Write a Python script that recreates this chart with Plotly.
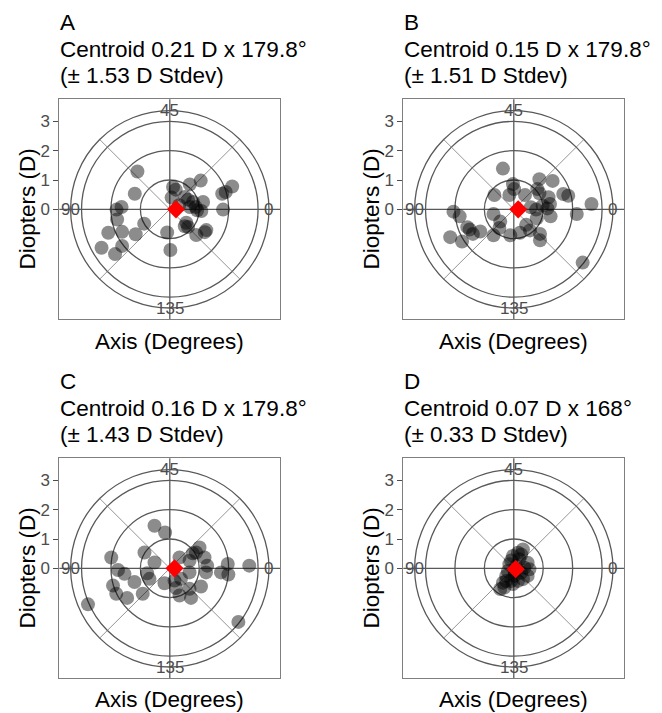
import math
import plotly.graph_objects as go

W, H = 662, 713

# ---- data (double-angle astigmatism vectors, diopters) ----
a_x = [-1.10, -1.19, -1.81, -1.64, -1.79, -0.87, -2.09, -1.62, -1.16, -2.32, -1.86, -1.62,
       -0.09, 0.02, 0.11, 0.20, 0.68, 1.05, 0.06, 0.51, 0.62, 0.79, 1.13, 0.68, 0.93, 1.07,
       0.56, 0.62, 0.51, 0.90, 1.24, 1.19, 1.78, 1.90, 2.12, 1.81, 0.32, 0.88]
a_y = [1.29, 0.53, -0.01, 0.08, -0.35, -0.49, -0.80, -0.77, -0.85, -1.31, -1.53, -1.25,
       -0.79, -1.39, 0.76, 0.67, 0.85, 0.98, 0.40, 0.42, 0.33, 0.25, 0.25, 0.08, -0.03, -0.06,
       -0.46, -0.60, -0.58, -0.88, -0.71, -0.78, 0.53, 0.59, 0.78, -0.01, 0.14, 0.08]

b_x = [-0.37, -0.03, 0.01, -0.66, -0.15, 0.38, 0.87, 1.32, 0.80, 0.87, 1.18, 1.68, 1.85,
       2.64, 2.14, 1.23, 1.14, 0.98, 0.58, 0.76, 1.25, 0.78, -0.69, -0.46, -0.49, -0.69,
       -0.12, 0.21, 0.55, 0.89, 0.89, -2.05, -1.84, -1.50, -1.39, -1.14, -2.16, -1.76,
       2.34, 0.42, -1.58]
b_y = [1.39, 0.86, 0.69, 0.49, 0.49, 0.49, 1.03, 0.97, 0.69, 0.55, 0.41, 0.52, 0.46,
       0.18, -0.16, 0.18, 0.03, 0.12, 0.07, -0.01, -0.24, -0.31, -0.16, -0.42, -0.64, -0.89,
       -0.89, -0.80, -0.72, -0.84, -1.06, -0.08, -0.24, -0.69, -0.84, -0.76, -0.95, -1.10,
       -1.82, -0.53, -0.61]

c_x = [-0.52, -0.16, -0.86, -0.52, -1.99, -1.76, -1.54, -1.20, -0.92, -0.69, -0.77, -1.93,
       -1.82, -1.45, -2.78, -0.18, 0.16, 0.21, 0.33, 0.72, 0.67, 1.06, 0.33, 0.67, 0.67,
       1.01, 0.89, 1.18, 1.27, 1.23, 1.74, 1.97, 1.99, 2.70, 2.33, 0.78, 0.38]
c_y = [1.45, 1.22, 0.54, 0.20, 0.37, -0.06, -0.19, -0.47, -0.87, -0.36, -0.17, -0.59,
       -0.87, -1.01, -1.23, -0.51, -0.42, -0.67, -0.93, -1.01, -0.70, -0.62, 0.37, 0.26, -0.14,
       0.71, 0.54, 0.37, 0.09, -0.14, -0.14, 0.15, -0.21, 0.09, -1.83, 0.51, -0.36]

d_x = [0.31, 0.14, -0.03, 0.19, 0.47, 0.53, 0.47, 0.25, -0.15, -0.26, -0.37, -0.46, -0.09,
       0.02, 0.08, -0.20, 0.36, -0.32, -0.03, 0.25, -0.09, 0.31, 0.14, -0.26, 0.02]
d_y = [0.64, 0.53, 0.42, 0.31, 0.19, -0.03, -0.26, -0.15, 0.14, -0.26, -0.49, -0.71, -0.43,
       -0.26, 0.08, -0.09, 0.02, -0.66, -0.54, 0.47, 0.27, -0.37, -0.43, -0.43, -0.09]

panel_letters = ["A", "B", "C", "D"]
centroid_mag = [0.21, 0.15, 0.16, 0.07]
centroid_axis = [179.8, 179.8, 179.8, 168]
centroid_sd = [1.53, 1.51, 1.43, 0.33]
centroid_axis_txt = ["179.8", "179.8", "179.8", "168"]

ring_radii = [1, 2, 3, 3.37]
angle_labels = ["0", "45", "90", "135"]
y_ticks = [0, 1, 2, 3]

panels_x = [a_x, b_x, c_x, d_x]
panels_y = [a_y, b_y, c_y, d_y]

# ---- layout geometry (pixels) ----
box_left = [59.3, 403.3, 59.3, 403.3]
box_top = [99.3, 99.3, 458.3, 458.3]
xtitle_gap = [22.0, 22.0, 21.0, 21.0]
box_w, box_h = 221.0, 220.0
half = 3.755
R_out = 3.37

FONT = "Liberation Sans, Arial, sans-serif"
TFS = 22.5
fig = go.Figure()
shapes = []
annotations = []
layout_axes = {}

for i in range(4):
    n = "" if i == 0 else str(i + 1)
    xa, ya = "x" + n, "y" + n
    L, T = box_left[i], box_top[i]
    layout_axes["xaxis" + n] = dict(
        domain=[L / W, (L + box_w) / W], range=[-half, half], anchor=ya,
        showgrid=False, zeroline=False, showticklabels=False, ticks="",
        showline=True, mirror=True, linecolor="#7f7f7f", linewidth=1.1, fixedrange=True)
    layout_axes["yaxis" + n] = dict(
        domain=[1 - (T + box_h) / H, 1 - T / H], range=[-half, half], anchor=xa,
        showgrid=False, zeroline=False, tickvals=y_ticks, ticktext=[str(v) for v in y_ticks],
        ticks="outside", ticklen=5, tickcolor="#4d4d4d", tickwidth=1,
        tickfont=dict(family=FONT, size=17, color="#4d4d4d"),
        showline=True, mirror=True, linecolor="#7f7f7f", linewidth=1.1, fixedrange=True)

    # rings
    for r in ring_radii:
        shapes.append(dict(type="circle", xref=xa, yref=ya, x0=-r, x1=r, y0=-r, y1=r,
                           line=dict(color="#595959", width=1.3), layer="below"))
    # diagonals
    d = R_out * math.cos(math.radians(45))
    shapes.append(dict(type="line", xref=xa, yref=ya, x0=-d, y0=-d, x1=d, y1=d,
                       line=dict(color="#7a7a7a", width=0.8), layer="below"))
    shapes.append(dict(type="line", xref=xa, yref=ya, x0=-d, y0=d, x1=d, y1=-d,
                       line=dict(color="#7a7a7a", width=0.8), layer="below"))
    # cross hairs
    shapes.append(dict(type="line", xref=xa + " domain", yref=ya, x0=0, x1=1, y0=0, y1=0,
                       line=dict(color="#595959", width=1.3), layer="below"))
    shapes.append(dict(type="line", xref=xa, yref=ya + " domain", x0=0, x1=0, y0=0, y1=1,
                       line=dict(color="#595959", width=1.3), layer="below"))

    # angle labels (double-angle positions)
    for lab in angle_labels:
        ang = math.radians(2 * float(lab))
        annotations.append(dict(xref=xa, yref=ya, x=R_out * math.cos(ang), y=R_out * math.sin(ang),
                                text=lab, showarrow=False, xanchor="center", yanchor="middle",
                                font=dict(family=FONT, size=17, color="#4d4d4d")))

    # points
    fig.add_trace(go.Scatter(x=panels_x[i], y=panels_y[i], mode="markers", xaxis=xa, yaxis=ya,
                             marker=dict(size=14, color="rgba(0,0,0,0.45)", line=dict(width=0)),
                             showlegend=False, hoverinfo="skip"))
    # centroid
    ca = math.radians(2 * centroid_axis[i])
    fig.add_trace(go.Scatter(x=[centroid_mag[i] * math.cos(ca)], y=[centroid_mag[i] * math.sin(ca)],
                             mode="markers", xaxis=xa, yaxis=ya,
                             marker=dict(symbol="diamond", size=14, color="#ff0000", line=dict(width=0)),
                             showlegend=False, hoverinfo="skip"))

    # titles
    annotations.append(dict(xref="paper", yref="paper", x=L / W, y=1 - (T - 77) / H,
                            text=panel_letters[i], showarrow=False, xanchor="left", yanchor="middle",
                            font=dict(family=FONT, size=TFS, color="black"), borderpad=0))
    annotations.append(dict(xref="paper", yref="paper", x=L / W, y=1 - (T - 50) / H,
                            text="Centroid %s D x %s°" % (("%.2f" % centroid_mag[i]), centroid_axis_txt[i]),
                            showarrow=False, xanchor="left", yanchor="middle",
                            font=dict(family=FONT, size=TFS, color="black"), borderpad=0))
    annotations.append(dict(xref="paper", yref="paper", x=L / W, y=1 - (T - 24) / H,
                            text="(± %.2f D Stdev)" % centroid_sd[i],
                            showarrow=False, xanchor="left", yanchor="middle",
                            font=dict(family=FONT, size=TFS, color="black"), borderpad=0))
    # axis titles
    annotations.append(dict(xref="paper", yref="paper", x=(L - 32) / W, y=1 - (T + box_h / 2) / H,
                            text="Diopters (D)", textangle=-90, showarrow=False,
                            xanchor="center", yanchor="middle",
                            font=dict(family=FONT, size=TFS, color="black"), borderpad=0))
    annotations.append(dict(xref="paper", yref="paper", x=(L + box_w / 2) / W,
                            y=1 - (T + box_h + xtitle_gap[i]) / H,
                            text="Axis (Degrees)", showarrow=False,
                            xanchor="center", yanchor="middle",
                            font=dict(family=FONT, size=TFS, color="black"), borderpad=0))

fig.update_layout(width=W, height=H, margin=dict(l=0, r=0, t=0, b=0),
                  paper_bgcolor="white", plot_bgcolor="white",
                  shapes=shapes, annotations=annotations, **layout_axes)

fig.write_html("out.html", config={"displayModeBar": False},
               post_script="document.body.style.margin='0';document.body.style.padding='0';"
                           "document.body.style.overflow='hidden';")
